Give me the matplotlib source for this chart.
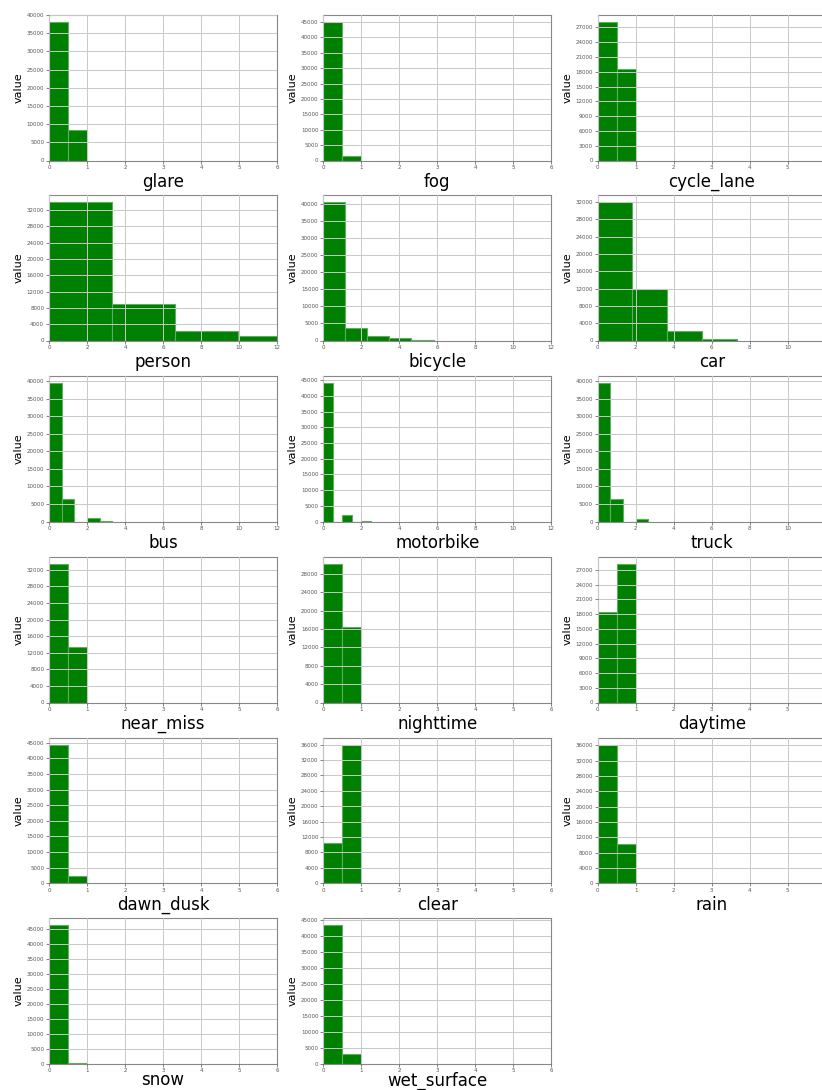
import numpy as np
import matplotlib
matplotlib.use('Agg')
import matplotlib.pyplot as plt
from matplotlib.ticker import MultipleLocator

# =============================================================================
# Histogram data (bin edges and counts per column)
# =============================================================================
names = ['glare', 'fog', 'cycle_lane',
         'person', 'bicycle', 'car',
         'bus', 'motorbike', 'truck',
         'near_miss', 'nighttime', 'daytime',
         'dawn_dusk', 'clear', 'rain',
         'snow', 'wet_surface']

half = [0, 0.5, 1]
bin_edges = [half, half, half,
             [0, 3.31, 6.62, 9.93, 13.24],
             [0, 1.16, 2.32, 3.48, 4.64, 5.8],
             [0, 1.83, 3.67, 5.5, 7.33],
             [0, 0.667, 1.333, 2, 2.667, 3.333],
             [0, 0.5, 1, 1.5, 2, 2.5],
             [0, 0.667, 1.333, 2, 2.667],
             half, half, half,
             half, half, half,
             half, half]

counts = [[38100, 8400], [45000, 1600], [28100, 18500],
          [34000, 9000, 2300, 1000],
          [40700, 3700, 1400, 600, 200],
          [32000, 11900, 2250, 450],
          [39500, 6400, 0, 950, 250],
          [44100, 0, 2150, 0, 200],
          [39500, 6300, 0, 850],
          [33400, 13300], [30200, 16500], [18400, 28200],
          [44400, 2200], [10500, 36000], [36200, 10300],
          [46400, 150], [43400, 2900]]

x_max = [6, 6, 6, 12, 12, 12, 12, 12, 12, 6, 6, 6, 6, 6, 6, 6, 6]
y_step = [5000, 5000, 3000, 4000, 5000, 4000, 5000, 5000, 5000,
          4000, 4000, 3000, 5000, 4000, 4000, 5000, 5000]

# =============================================================================
# Plotting
# =============================================================================
W, H = 822, 1090
fig = plt.figure(figsize=(W/100, H/100), dpi=100)

col_left = [49, 323.3, 597.7]
row_top = [15, 195, 376, 557, 737.7, 918]
ax_w, ax_h = 228, 145.5

for i, name in enumerate(names):
    r, c = divmod(i, 3)
    ax = fig.add_axes([col_left[c]/W, (H - row_top[r] - ax_h)/H, ax_w/W, ax_h/H])
    edges = np.array(bin_edges[i])
    ax.hist(edges[:-1], bins=edges, weights=counts[i], color='green',
            edgecolor='#5fae5f', linewidth=0.8)
    ax.set_xlim(0, x_max[i])
    step = 1 if x_max[i] == 6 else 2
    if c == 2:
        # right column runs past the image edge, its last tick is not shown
        ax.set_xticks(np.arange(0, x_max[i], step))
    else:
        ax.xaxis.set_major_locator(MultipleLocator(step))
    ax.yaxis.set_major_locator(MultipleLocator(y_step[i]))
    ax.grid(True, color='#c8c8c8', linewidth=0.7)
    ax.set_axisbelow(False)
    ax.tick_params(labelsize=4, length=2, width=0.5, colors='#555555', pad=1.5)
    for s in ax.spines.values():
        s.set_color('#888888')
        s.set_linewidth(0.8)
    # bottom row sits on the image edge, pull its labels up a touch
    ax.set_xlabel(name, fontsize=12, labelpad=2 if r < 5 else -1.5)
    ax.set_ylabel('value', fontsize=8, labelpad=2)

plt.savefig('out.png', dpi=100)
